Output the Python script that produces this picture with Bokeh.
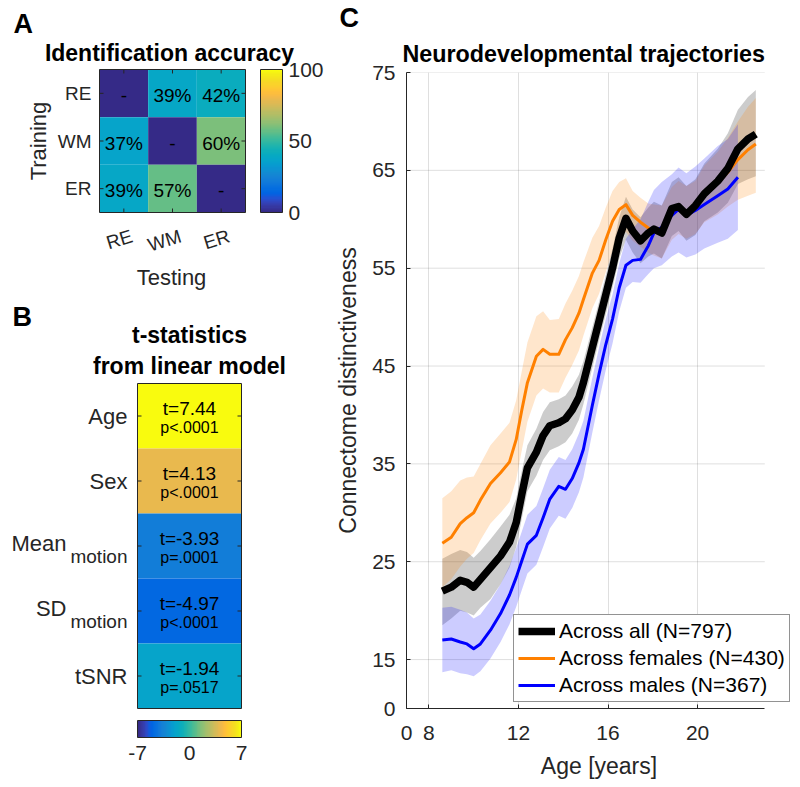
from bokeh.plotting import figure
from bokeh.models import (Range1d, LinearColorMapper, ColorBar, FixedTicker, Title,
                          Legend, LegendItem, ColumnDataSource)
from bokeh.layouts import row, column
from bokeh.embed import file_html
from bokeh.resources import INLINE
from bokeh.core.properties import value
import math

# ---------------- data ----------------
# Panel A: identification accuracy (%), rows = training task, columns = testing task
tasks = ["RE", "WM", "ER"]
acc_train_RE = [0, 39, 42]
acc_train_WM = [37, 0, 60]
acc_train_ER = [39, 57, 0]

# Panel B: t-statistics from linear model
predictors = ["Age", "Sex", "Mean", "SD", "tSNR"]
predictor_subscripts = ["", "", "motion", "motion", ""]
t_values = [7.44, 4.13, -3.93, -4.97, -1.94]
p_labels = ["p<.0001", "p<.0001", "p=.0001", "p<.0001", "p=.0517"]

# Panel C: neurodevelopmental trajectories
age = [8.6, 9.0, 9.4, 9.7, 10.0, 10.3, 10.75, 11.2, 11.6, 11.9, 12.15, 12.4, 12.8, 13.1,
       13.4, 13.8, 14.1, 14.4, 14.7, 14.9, 15.3, 15.6, 15.9, 16.2, 16.5, 16.8, 17.1, 17.45,
       17.8, 18.05, 18.4, 18.85, 19.15, 19.5, 19.9, 20.3, 20.9, 21.35, 21.8, 22.25, 22.6]
all_mean = [22.0, 22.4, 23.1, 22.9, 22.4, 23.2, 24.4, 25.6, 27.0, 29.0, 31.9, 34.6, 36.2, 37.9,
            38.9, 39.2, 39.6, 40.5, 41.8, 43.3, 46.9, 49.6, 52.3, 55.0, 58.1, 60.1, 58.8, 57.8,
            58.6, 59.0, 58.6, 61.1, 61.3, 60.5, 61.4, 62.6, 63.9, 65.2, 67.2, 68.2, 68.7]
all_lo = [18.5, 19.2, 20.0, 19.8, 19.5, 20.3, 21.2, 22.7, 24.4, 26.5, 29.4, 32.2, 33.8, 35.4,
          36.4, 36.8, 37.2, 38.1, 39.5, 41.1, 44.8, 47.6, 50.3, 53.0, 56.0, 57.9, 56.6, 55.5,
          56.2, 56.5, 56.0, 58.3, 58.8, 57.8, 58.4, 59.8, 60.7, 61.7, 63.6, 64.1, 64.4]
all_hi = [25.3, 25.8, 26.2, 26.0, 25.4, 26.1, 27.3, 28.6, 29.8, 31.5, 34.3, 36.9, 38.6, 40.3,
          41.3, 41.6, 42.0, 42.9, 44.1, 45.5, 49.0, 51.6, 54.3, 57.0, 60.2, 62.3, 61.0, 60.2,
          61.2, 61.8, 61.4, 63.8, 64.3, 63.4, 64.1, 65.7, 67.2, 68.8, 71.2, 72.5, 73.2]
fem_mean = [26.9, 27.5, 28.9, 29.5, 30.0, 31.3, 33.0, 34.1, 35.2, 37.5, 40.5, 43.3, 46.0, 46.7,
            46.2, 46.2, 47.7, 48.9, 50.4, 51.8, 54.5, 55.8, 57.9, 59.8, 61.0, 61.5, 60.4, 59.7,
            59.1, 58.9, 58.7, 60.6, 61.2, 60.7, 61.2, 62.6, 63.7, 64.8, 66.1, 67.1, 67.7]
fem_lo = [22.4, 23.2, 24.5, 25.3, 25.9, 27.2, 28.9, 30.0, 31.1, 33.4, 36.4, 39.3, 42.0, 42.7,
          42.3, 42.3, 43.8, 45.1, 46.6, 48.1, 50.9, 52.4, 54.6, 56.7, 58.1, 58.7, 57.8, 57.2,
          56.6, 56.3, 56.0, 57.9, 58.5, 58.0, 58.5, 59.7, 60.5, 61.3, 62.0, 62.4, 62.7]
fem_hi = [31.5, 32.2, 33.3, 33.6, 33.7, 35.0, 36.9, 38.1, 39.2, 41.5, 44.5, 47.4, 50.1, 50.6,
          49.7, 49.8, 51.4, 52.7, 54.2, 55.6, 58.1, 59.3, 61.2, 62.9, 63.8, 64.2, 62.9, 62.2,
          61.6, 61.5, 61.4, 63.3, 63.9, 63.4, 63.9, 65.5, 66.9, 68.3, 70.0, 71.5, 72.4]
age_m = [8.6, 9.0, 9.4, 9.7, 10.0, 10.3, 10.75, 11.2, 11.6, 11.9, 12.15, 12.4, 12.8, 13.1,
         13.4, 13.8, 14.1, 14.4, 14.7, 14.9, 15.3, 15.6, 15.9, 16.2, 16.5, 16.8, 17.1, 17.45,
         17.8, 18.05, 18.4, 18.85, 19.15, 19.5, 19.9, 20.3, 20.9, 21.35, 21.8]
male_mean = [17.0, 17.1, 16.8, 16.6, 16.1, 16.6, 18.0, 19.7, 21.6, 23.4, 25.1, 26.8, 27.7, 29.5,
             31.4, 32.7, 32.4, 33.5, 35.1, 36.5, 41.0, 44.2, 47.2, 49.8, 53.0, 55.3, 55.8, 55.9,
             57.3, 58.6, 59.2, 60.4, 61.0, 60.4, 60.9, 61.5, 62.4, 63.1, 64.3]
male_lo = [13.7, 13.9, 13.6, 13.5, 13.3, 13.8, 15.1, 16.8, 18.6, 20.4, 22.1, 23.8, 24.7, 26.5,
           28.4, 29.7, 29.4, 30.5, 32.1, 33.6, 38.2, 41.5, 44.6, 47.3, 50.6, 53.0, 53.6, 53.5,
           54.4, 55.0, 55.3, 56.2, 56.6, 56.1, 56.4, 57.0, 57.6, 58.0, 58.9]
male_hi = [20.3, 20.4, 20.1, 19.8, 19.2, 19.6, 21.0, 22.7, 24.6, 26.4, 28.1, 29.8, 30.7, 32.5,
           34.4, 35.7, 35.4, 36.5, 38.1, 39.4, 43.8, 46.9, 49.8, 52.3, 55.5, 58.0, 59.0, 60.0,
           61.8, 63.0, 63.8, 64.6, 65.3, 64.7, 65.4, 66.2, 67.5, 68.2, 69.7]
legend_labels = ["Across all (N=797)", "Across females (N=430)", "Across males (N=367)"]
x_ticks_c = [7, 8, 12, 16, 20]
y_ticks_c = [10, 15, 25, 35, 45, 55, 65, 75]

# ---------------- style ----------------
FONT = "Liberation Sans"
AX = "#262626"
PARULA_RGB = [
    (0.2081, 0.1663, 0.5292), (0.2116, 0.1898, 0.5777), (0.2123, 0.2138, 0.6270), (0.2081, 0.2386, 0.6771),
    (0.1959, 0.2645, 0.7279), (0.1707, 0.2919, 0.7792), (0.1253, 0.3242, 0.8303), (0.0591, 0.3598, 0.8683),
    (0.0117, 0.3875, 0.8820), (0.0060, 0.4086, 0.8828), (0.0165, 0.4266, 0.8786), (0.0329, 0.4430, 0.8720),
    (0.0498, 0.4586, 0.8641), (0.0629, 0.4737, 0.8554), (0.0723, 0.4887, 0.8467), (0.0779, 0.5040, 0.8384),
    (0.0793, 0.5200, 0.8312), (0.0749, 0.5375, 0.8263), (0.0641, 0.5570, 0.8240), (0.0488, 0.5772, 0.8228),
    (0.0343, 0.5966, 0.8199), (0.0265, 0.6137, 0.8135), (0.0239, 0.6287, 0.8038), (0.0231, 0.6418, 0.7913),
    (0.0228, 0.6535, 0.7768), (0.0267, 0.6642, 0.7607), (0.0384, 0.6743, 0.7436), (0.0590, 0.6838, 0.7254),
    (0.0843, 0.6928, 0.7062), (0.1133, 0.7015, 0.6859), (0.1453, 0.7098, 0.6646), (0.1801, 0.7177, 0.6424),
    (0.2178, 0.7250, 0.6193), (0.2586, 0.7317, 0.5954), (0.3022, 0.7376, 0.5712), (0.3482, 0.7424, 0.5473),
    (0.3953, 0.7459, 0.5244), (0.4420, 0.7481, 0.5033), (0.4871, 0.7491, 0.4840), (0.5300, 0.7491, 0.4661),
    (0.5709, 0.7485, 0.4494), (0.6099, 0.7473, 0.4337), (0.6473, 0.7456, 0.4188), (0.6834, 0.7435, 0.4044),
    (0.7184, 0.7411, 0.3905), (0.7525, 0.7384, 0.3768), (0.7858, 0.7356, 0.3633), (0.8185, 0.7327, 0.3498),
    (0.8507, 0.7299, 0.3360), (0.8824, 0.7274, 0.3217), (0.9139, 0.7258, 0.3063), (0.9450, 0.7261, 0.2886),
    (0.9739, 0.7314, 0.2666), (0.9938, 0.7455, 0.2403), (0.9990, 0.7653, 0.2164), (0.9955, 0.7861, 0.1967),
    (0.9880, 0.8066, 0.1794), (0.9789, 0.8271, 0.1633), (0.9697, 0.8481, 0.1475), (0.9626, 0.8705, 0.1309),
    (0.9589, 0.8949, 0.1132), (0.9598, 0.9218, 0.0948), (0.9661, 0.9514, 0.0755), (0.9763, 0.9831, 0.0538)]
PARULA = ["#%02x%02x%02x" % tuple(int(round(c * 255)) for c in rgb) for rgb in PARULA_RGB]

COL_W = 332          # width of the left column (panels A and B)
TICK = 4             # inward tick length, px


def base_fig(**kw):
    p = figure(toolbar_location=None, output_backend="svg", **kw)
    p.background_fill_color = "white"
    p.border_fill_color = "white"
    return p


def txt(p, **kw):
    kw.setdefault("text_font", value(FONT))
    kw.setdefault("text_color", AX)
    kw.setdefault("text_baseline", "middle")
    return p.text(**kw)


def style_axis(ax, tick_size, label_size):
    ax.axis_line_color = AX
    ax.major_tick_line_color = AX
    ax.minor_tick_line_color = None
    ax.major_tick_in = TICK
    ax.major_tick_out = 0
    ax.major_label_text_font = FONT
    ax.major_label_text_font_size = tick_size
    ax.major_label_text_color = AX
    ax.axis_label_text_font = FONT
    ax.axis_label_text_font_size = label_size
    ax.axis_label_text_font_style = "normal"
    ax.axis_label_text_color = AX


# ---------------- Panel A ----------------
# heatmap cell = 48.7 x 47.7 px, heatmap spans px x 99..245, y 69..212 of this figure
CW, CH = 146 / 3, 143 / 3
A_H = 294
pA = base_fig(width=COL_W, height=A_H,
              x_range=Range1d(0.5 - 99 / CW, 3.5 + (COL_W - 245) / CW),
              y_range=Range1d(3.5 + (A_H - 212) / CH, 0.5 - 69 / CH),
              x_axis_location=None, y_axis_location=None,
              min_border_left=0, min_border_right=0, min_border_top=0, min_border_bottom=0)
pA.outline_line_color = None
pA.grid.grid_line_color = None
mapA = LinearColorMapper(palette=PARULA, low=0, high=100)
cx, cy, cv, ct = [], [], [], []
for i, vals in enumerate([acc_train_RE, acc_train_WM, acc_train_ER]):
    for j, v in enumerate(vals):
        cx.append(j + 1)
        cy.append(i + 1)
        cv.append(v)
        ct.append("-" if i == j else "%d%%" % v)
srcA = ColumnDataSource(dict(x=cx, y=cy, v=cv, t=ct))
pA.rect(x="x", y="y", width=1, height=1, source=srcA,
        fill_color={"field": "v", "transform": mapA}, line_color=None)
pA.rect(x=[2], y=[2], width=3, height=3, fill_color=None, line_color=AX, line_width=1)
ticks_a = [1, 2, 3]
dxA, dyA = TICK / CW, TICK / CH
pA.segment(x0=ticks_a, x1=ticks_a, y0=[3.5] * 3, y1=[3.5 - dyA] * 3, line_color=AX)
pA.segment(x0=ticks_a, x1=ticks_a, y0=[0.5] * 3, y1=[0.5 + dyA] * 3, line_color=AX)
pA.segment(x0=[0.5] * 3, x1=[0.5 + dxA] * 3, y0=ticks_a, y1=ticks_a, line_color=AX)
pA.segment(x0=[3.5] * 3, x1=[3.5 - dxA] * 3, y0=ticks_a, y1=ticks_a, line_color=AX)
txt(pA, x="x", y="y", text="t", source=srcA, text_align="center",
    text_font_size="19px", text_color="#000000", y_offset=2)
# tick labels and axis labels
txt(pA, x=[0.5] * 3, y=ticks_a, text=tasks, x_offset=-8, text_align="right",
    text_font_size="19px")
txt(pA, x=[0.5], y=[2], text=["Training"], x_offset=-61, angle=math.pi / 2,
    text_align="center", text_font_size="22px")
txt(pA, x=ticks_a, y=[3.5] * 3, text=tasks, x_offset=5, y_offset=13, angle=0.3,
    text_align="right", text_baseline="top", text_font_size="19px")
txt(pA, x=[2], y=[3.5], text=["Testing"], x_offset=-1, y_offset=65,
    text_align="center", text_font_size="22px")
# title and panel letter
txt(pA, x=[2], y=[0.5], text=["Identification accuracy"], x_offset=-3, y_offset=-17,
    text_align="center", text_font_size="23px",
    text_font_style="bold", text_color="#000000")
txt(pA, x=[0.5], y=[0.5], text=["A"], x_offset=-86, y_offset=-46,
    text_align="left", text_font_size="27px",
    text_font_style="bold", text_color="#000000")
cbA = ColorBar(color_mapper=mapA, ticker=FixedTicker(ticks=[0, 50, 100]), width=22, height=143,
               location=(260, A_H - 212), padding=0, margin=0, label_standoff=6,
               major_tick_line_color=None, bar_line_color=AX, border_line_color=None,
               background_fill_alpha=0,
               major_label_text_font=FONT, major_label_text_font_size="21px",
               major_label_text_color=AX)
pA.add_layout(cbA, "center")

# ---------------- Panel B ----------------
# heatmap column spans page px x 137..241; rows of 65 px start at page px y 383
RW, RH = 104, 65
B_H = 786 - A_H
B_TOP = 383 - A_H
pB = base_fig(width=COL_W, height=B_H,
              x_range=Range1d(-137 / RW, (COL_W - 137) / RW),
              y_range=Range1d(0.5 + (B_H - B_TOP) / RH, 0.5 - B_TOP / RH),
              x_axis_location=None, y_axis_location=None,
              min_border_left=0, min_border_right=0, min_border_top=0, min_border_bottom=0)
pB.outline_line_color = None
pB.grid.grid_line_color = None
mapB = LinearColorMapper(palette=PARULA, low=-7, high=7)
rows_b = list(range(1, len(predictors) + 1))
nb = len(rows_b)
srcB = ColumnDataSource(dict(x=[0.5] * nb, y=rows_b, t=t_values,
                             tl=["t=%.2f" % t for t in t_values], pl=p_labels))
pB.rect(x="x", y="y", width=1, height=1, source=srcB,
        fill_color={"field": "t", "transform": mapB}, line_color=None)
pB.rect(x=[0.5], y=[(nb + 1) / 2], width=1, height=nb, fill_color=None, line_color=AX)
pB.segment(x0=[0] * nb, x1=[TICK / RW] * nb, y0=rows_b, y1=rows_b, line_color=AX)
pB.segment(x0=[1] * nb, x1=[1 - TICK / RW] * nb, y0=rows_b, y1=rows_b, line_color=AX)
txt(pB, x="x", y="y", text="tl", source=srcB, text_align="center",
    text_font_size="19px", text_color="#000000", y_offset=-8)
txt(pB, x="x", y="y", text="pl", source=srcB, text_align="center",
    text_font_size="16px", text_color="#000000", y_offset=11)
plain = [(r, n) for r, n, s in zip(rows_b, predictors, predictor_subscripts) if not s]
subs = [(r, n, s) for r, n, s in zip(rows_b, predictors, predictor_subscripts) if s]
txt(pB, x=[0] * len(plain), y=[r for r, n in plain], text=[n for r, n in plain], x_offset=-10,
    text_align="right", text_font_size="22px")
txt(pB, x=[0] * len(subs), y=[r for r, n, s in subs], text=[s for r, n, s in subs],
    x_offset=-10, y_offset=10, text_align="right", text_font_size="19px")
txt(pB, x=[0] * len(subs), y=[r for r, n, s in subs], text=[n for r, n, s in subs],
    x_offset=-71, y_offset=-3, text_align="right", text_font_size="22px")
txt(pB, x=[0.5, 0.5], y=[0.5, 0.5], text=["t-statistics", "from linear model"],
    y_offset=[-49, -18], text_align="center",
    text_font_size="23px", text_font_style="bold", text_color="#000000")
txt(pB, x=[0], y=[0.5], text=["B"], x_offset=-125, y_offset=-67, text_align="left",
    text_font_size="27px", text_font_style="bold", text_color="#000000")
cb_ticks_b = [-7, 0, 7]
cbB = ColorBar(color_mapper=mapB, orientation="horizontal", ticker=FixedTicker(ticks=cb_ticks_b),
               major_label_overrides={t: str(t) for t in cb_ticks_b},
               width=RW, height=17, location=(137, 24), padding=0, margin=0,
               label_standoff=8, major_tick_line_color=None, bar_line_color=AX,
               border_line_color=None, background_fill_alpha=0,
               major_label_text_font=FONT, major_label_text_font_size="21px",
               major_label_text_color=AX)
pB.add_layout(cbB, "center")

# ---------------- Panel C ----------------
C_W = 799 - COL_W
C_LB = 402 - COL_W
C_RB = 799 - 791
pxC = 362 / 16.0
x_end_axis = 23
pC = base_fig(width=C_W, height=786,
              x_range=Range1d(7, 7 + (C_W - C_LB - C_RB) / pxC), y_range=Range1d(10, 75),
              min_border_left=C_LB, min_border_right=C_RB, min_border_top=71, min_border_bottom=786 - 708)
pC.outline_line_color = None
pC.xgrid.grid_line_color = AX
pC.xgrid.grid_line_alpha = 0.15
pC.ygrid.grid_line_color = None
gy = y_ticks_c[1:]
pC.segment(x0=[x_ticks_c[0]] * len(gy), x1=[x_end_axis] * len(gy), y0=gy, y1=gy,
           line_color=AX, line_alpha=0.15, line_width=1)
pC.varea(x=age, y1=all_lo, y2=all_hi, fill_color="black", fill_alpha=0.2)
pC.varea(x=age, y1=fem_lo, y2=fem_hi, fill_color="#ff8000", fill_alpha=0.2)
pC.varea(x=age_m, y1=male_lo, y2=male_hi, fill_color="#0000ff", fill_alpha=0.2)
r_f = pC.line(age, fem_mean, line_color="#ff8000", line_width=3, line_join="round")
r_m = pC.line(age_m, male_mean, line_color="#0000ff", line_width=3, line_join="round")
r_a = pC.line(age, all_mean, line_color="#000000", line_width=7.5, line_join="round")
for ax in (pC.xaxis[0], pC.yaxis[0]):
    style_axis(ax, "21px", "23px")
pC.xaxis.ticker = FixedTicker(ticks=x_ticks_c)
pC.yaxis.ticker = FixedTicker(ticks=y_ticks_c)
pC.xaxis.bounds = (x_ticks_c[0], x_end_axis)
pC.xaxis.major_label_overrides = {x_ticks_c[0]: "0"}
pC.yaxis.major_label_overrides = {y_ticks_c[0]: "0"}
pC.xaxis.axis_label = "Age [years]"
pC.yaxis.axis_label = "Connectome distinctiveness"
pC.xaxis.major_label_standoff = 17
pC.xaxis.axis_label_standoff = 10
pC.yaxis.major_label_standoff = 11
pC.yaxis.axis_label_standoff = 8
legend = Legend(items=[LegendItem(label=legend_labels[0], renderers=[r_a]),
                       LegendItem(label=legend_labels[1], renderers=[r_f]),
                       LegendItem(label=legend_labels[2], renderers=[r_m])],
                location=(107, 6), label_text_font=FONT, label_text_font_size="21px",
                label_text_color="#000000", glyph_width=37, glyph_height=22, label_height=22,
                label_standoff=4, padding=4, spacing=3, margin=0,
                border_line_color=AX, border_line_width=1, background_fill_alpha=1)
pC.add_layout(legend, "center")
pC.add_layout(Title(text="Neurodevelopmental trajectories", align="left", offset=-4, standoff=12,
                    text_font=FONT, text_font_size="23.3px", text_font_style="bold",
                    text_color="#000000"), "above")
pC.add_layout(Title(text="C", align="left", offset=-67, standoff=0,
                    text_font=FONT, text_font_size="27px", text_font_style="bold",
                    text_color="#000000"), "above")

layout = row(column(pA, pB), pC)
open("out.html", "w").write(file_html(layout, INLINE))
